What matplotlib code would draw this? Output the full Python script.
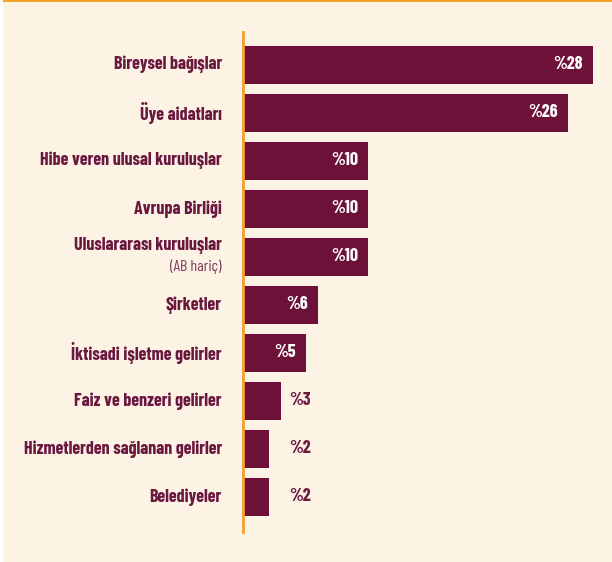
import matplotlib
matplotlib.use("Agg")
import matplotlib.pyplot as plt
from matplotlib.patches import Rectangle

categories = [
    "Bireysel bağışlar",
    "Üye aidatları",
    "Hibe veren ulusal kuruluşlar",
    "Avrupa Birliği",
    "Uluslararası kuruluşlar",
    "Şirketler",
    "İktisadi işletme gelirler",
    "Faiz ve benzeri gelirler",
    "Hizmetlerden sağlanan gelirler",
    "Belediyeler",
]
sublabels = ["", "", "", "", "(AB hariç)", "", "", "", "", ""]
values = [28, 26, 10, 10, 10, 6, 5, 3, 2, 2]
value_labels = ["%28", "%26", "%10", "%10", "%10", "%6", "%5", "%3", "%2", "%2"]

BG = "#fdf3e4"
BAR = "#6e1139"
TXT = "#6a1840"
SUB = "#7d3a5c"
ORANGE = "#f5a22c"
FONT = ["Barlow Condensed", "DejaVu Sans"]

W, H = 612, 562
fig = plt.figure(figsize=(W / 100, H / 100), dpi=100, facecolor=BG)
fig.patches.append(Rectangle((0, 0), 3 / W, 1, transform=fig.transFigure,
                             facecolor="white", edgecolor="none", zorder=-10))
fig.patches.append(Rectangle((3 / W, 1 - 2 / H), 1 - 3 / W, 2 / H, transform=fig.transFigure,
                             facecolor=ORANGE, edgecolor="none", zorder=-10))

ax_left = 243 / W
ax_bottom = 1 - 532 / H
ax_top = 1 - 32 / H
ax = fig.add_axes([ax_left, ax_bottom, 1 - ax_left, ax_top - ax_bottom])
ax.set_facecolor("none")

y = list(range(len(values)))
ax.barh(y, values, height=0.785, color=BAR, left=0.05, zorder=2)
ax.set_xlim(0, 29.6)
ax.set_ylim(len(values) - 1 + 0.73, -0.68)

for s in ["top", "right", "bottom"]:
    ax.spines[s].set_visible(False)
ax.spines["left"].set_color(ORANGE)
ax.spines["left"].set_linewidth(2)
ax.set_xticks([])
ax.set_yticks([])

FS = 13
label_x = -21 / 12.46
for i, (cat, sub) in enumerate(zip(categories, sublabels)):
    if sub:
        ax.text(label_x, i - 0.05, cat, ha="right", va="bottom", fontsize=FS,
                fontweight="bold", color=TXT, family=FONT)
        ax.text(label_x, i + 0.05, sub, ha="right", va="top", fontsize=11.5,
                color=SUB, family=FONT)
    else:
        ax.text(label_x, i, cat, ha="right", va="center", fontsize=FS,
                fontweight="bold", color=TXT, family=FONT)

for i, (v, lab) in enumerate(zip(values, value_labels)):
    if v >= 4:
        ax.text(v + 0.05 - 10 / 12.46, i, lab, ha="right", va="center", fontsize=FS,
                fontweight="bold", color="white", family=FONT)
    else:
        ax.text(46 / 12.46, i, lab, ha="left", va="center", fontsize=FS,
                fontweight="bold", color=TXT, family=FONT)

fig.savefig("out.png", dpi=100, facecolor=BG)
